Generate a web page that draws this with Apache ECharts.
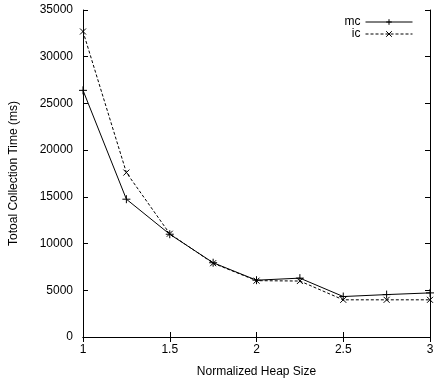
<!DOCTYPE html>
<html>
<head>
<meta charset="utf-8">
<script src="https://cdn.jsdelivr.net/npm/echarts@6/dist/echarts.min.js"></script>
<style>html,body{margin:0;padding:0;background:#fff}#c{width:438px;height:383px}</style>
</head>
<body>
<div id="c"></div>
<script>
var heapSizes = [1, 1.25, 1.5, 1.75, 2, 2.25, 2.5, 2.75, 3];
var mcValues = [26400, 14750, 11000, 7950, 6080, 6300, 4330, 4540, 4720];
var icValues = [32700, 17600, 11050, 7900, 6030, 5990, 3980, 3980, 3980];
var xTicks = [1, 1.5, 2, 2.5, 3];
var yTicks = [0, 5000, 10000, 15000, 20000, 25000, 30000, 35000];
var seriesNames = ['mc', 'ic'];
var xName = 'Normalized Heap Size';
var yName = 'Totoal Collection Time (ms)';

function pairs(xs, ys) { return xs.map(function (x, i) { return [x, ys[i]]; }); }

var FONT = 'Liberation Sans';
var FS = 12;
var plus = 'path://M0,5L10,5M5,0L5,10';
var cross = 'path://M0,0L10,10M10,0L0,10';

var chart = echarts.init(document.getElementById('c'));
var axisCommon = {
  axisLine: { show: true, lineStyle: { color: '#000', width: 1 } },
  axisTick: { show: true, inside: true, length: 5, lineStyle: { color: '#000' } },
  splitLine: { show: false }
};
chart.setOption({
  animation: false,
  backgroundColor: '#fff',
  textStyle: { fontFamily: FONT },
  grid: { left: 83, right: 8, top: 10, bottom: 44 },
  legend: {
    right: 20, top: 11, orient: 'vertical', align: 'right',
    itemWidth: 47, itemHeight: 7, itemGap: 0,
    textStyle: { fontFamily: FONT, fontSize: FS, color: '#000' },
    itemStyle: { color: 'none', borderColor: '#000', borderWidth: 1 },
    lineStyle: { width: 1 },
    data: seriesNames
  },
  xAxis: [
    Object.assign({
      type: 'value', min: xTicks[0], max: xTicks[xTicks.length - 1], interval: 0.5,
      name: xName, nameLocation: 'middle', nameGap: 29,
      nameTextStyle: { fontFamily: FONT, fontSize: FS, color: '#000' },
      axisLabel: { fontFamily: FONT, fontSize: FS, color: '#000', margin: 7,
        formatter: function (v) { return String(v); } }
    }, axisCommon),
    Object.assign({
      type: 'value', position: 'top', min: xTicks[0], max: xTicks[xTicks.length - 1], interval: 0.5,
      axisLabel: { show: false }
    }, axisCommon)
  ],
  yAxis: [
    Object.assign({
      type: 'value', min: yTicks[0], max: yTicks[yTicks.length - 1], interval: 5000,
      name: yName, nameLocation: 'middle', nameGap: 63,
      nameTextStyle: { fontFamily: FONT, fontSize: FS, color: '#000' },
      axisLabel: { fontFamily: FONT, fontSize: FS, color: '#000', margin: 10,
        formatter: function (v) { return String(v); } }
    }, axisCommon),
    Object.assign({
      type: 'value', position: 'right', min: yTicks[0], max: yTicks[yTicks.length - 1], interval: 5000,
      axisLabel: { show: false }
    }, axisCommon)
  ],
  series: [
    {
      name: seriesNames[0], type: 'line', data: pairs(heapSizes, mcValues),
      symbol: plus, symbolSize: 8, showSymbol: true,
      lineStyle: { color: '#000', width: 1, type: 'solid' },
      itemStyle: { color: 'none', borderColor: '#000', borderWidth: 1 }
    },
    {
      name: seriesNames[1], type: 'line', data: pairs(heapSizes, icValues),
      symbol: cross, symbolSize: 6, showSymbol: true,
      lineStyle: { color: '#000', width: 1, type: [3, 2] },
      itemStyle: { color: 'none', borderColor: '#000', borderWidth: 1 }
    }
  ]
});
</script>
</body>
</html>
